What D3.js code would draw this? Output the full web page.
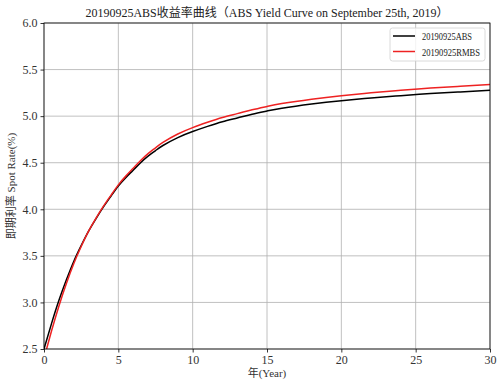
<!DOCTYPE html>
<html>
<head>
<meta charset="utf-8">
<script src="https://cdn.jsdelivr.net/npm/d3@7"></script>
<style>
  body { margin: 0; background: #fff; }
  svg text { font-family: "Liberation Serif", "Noto Sans CJK SC", serif; }
</style>
</head>
<body>
<div id="wrapper"></div>
<script>
// years to maturity
const years = [0, 0.5, 1, 1.5, 2, 2.5, 3, 3.5, 4, 4.5, 5, 5.5, 6, 6.5, 7, 7.5, 8, 9, 10, 11, 12, 13, 14, 15, 16, 18, 20, 22, 24, 26, 28, 30];
// 20190925ABS spot rate (%)
const absRates = [2.50, 2.77, 3.02, 3.24, 3.44, 3.61, 3.765, 3.90, 4.025, 4.14, 4.25, 4.34, 4.42, 4.50, 4.57, 4.63, 4.685, 4.77, 4.835, 4.89, 4.94, 4.98, 5.02, 5.055, 5.085, 5.13, 5.166, 5.195, 5.22, 5.242, 5.26, 5.277];
// 20190925RMBS spot rate (%)
const rmbsRates = [2.40, 2.69, 2.96, 3.20, 3.415, 3.60, 3.765, 3.905, 4.033, 4.15, 4.262, 4.356, 4.44, 4.523, 4.597, 4.66, 4.718, 4.808, 4.877, 4.934, 4.986, 5.027, 5.068, 5.104, 5.135, 5.182, 5.22, 5.251, 5.278, 5.302, 5.321, 5.339];
const xTicks = [0, 5, 10, 15, 20, 25, 30];
const yTicks = [2.5, 3.0, 3.5, 4.0, 4.5, 5.0, 5.5, 6.0];
const seriesNames = ["20190925ABS", "20190925RMBS"];
const seriesColors = ["#000000", "#ee2222"];

const dimension = {
    width: 502,
    height: 387,
    margin: { top: 23, left: 44, bottom: 38, right: 12 }
};
dimension.boundedWidth = dimension.width - dimension.margin.left - dimension.margin.right;
dimension.boundedHeight = dimension.height - dimension.margin.top - dimension.margin.bottom;

const svg = d3.select("#wrapper").append("svg")
    .attr("width", dimension.width)
    .attr("height", dimension.height);

const xScaler = d3.scaleLinear().domain([0, 30]).range([0, dimension.boundedWidth]);
const yScaler = d3.scaleLinear().domain([2.5, 6.0]).range([dimension.boundedHeight, 0]);

svg.append("defs").append("clipPath").attr("id", "clip")
    .append("rect")
    .attr("width", dimension.boundedWidth)
    .attr("height", dimension.boundedHeight);

const bounded = svg.append("g")
    .attr("transform", `translate(${dimension.margin.left},${dimension.margin.top})`);

// grid
bounded.append("g")
    .selectAll("line.gx").data(xTicks).join("line")
    .attr("x1", d => xScaler(d)).attr("x2", d => xScaler(d))
    .attr("y1", 0).attr("y2", dimension.boundedHeight)
    .attr("stroke", "#b0b0b0").attr("stroke-width", 0.8);
bounded.append("g")
    .selectAll("line.gy").data(yTicks).join("line")
    .attr("y1", d => yScaler(d)).attr("y2", d => yScaler(d))
    .attr("x1", 0).attr("x2", dimension.boundedWidth)
    .attr("stroke", "#b0b0b0").attr("stroke-width", 0.8);

// lines
const lineGenerator = d3.line()
    .x((d, i) => xScaler(years[i]))
    .y(d => yScaler(d))
    .curve(d3.curveNatural);

const lines = bounded.append("g").attr("clip-path", "url(#clip)");
[absRates, rmbsRates].forEach((rates, k) => {
    lines.append("path")
        .attr("d", lineGenerator(rates))
        .attr("fill", "none")
        .attr("stroke", seriesColors[k])
        .attr("stroke-width", 1.5);
});

// axes
const x_axis = d3.axisBottom(xScaler).tickValues(xTicks).tickFormat(d3.format("d")).tickSizeOuter(0).tickSize(3.5).tickPadding(3);
const y_axis = d3.axisLeft(yScaler).tickValues(yTicks).tickFormat(d3.format(".1f")).tickSizeOuter(0).tickSize(3.5).tickPadding(3);

const gx = bounded.append("g")
    .attr("transform", `translate(0,${dimension.boundedHeight})`)
    .call(x_axis);
const gy = bounded.append("g").call(y_axis);
[gx, gy].forEach(g => {
    g.select(".domain").remove();
    g.selectAll(".tick line").attr("stroke", "#000").attr("stroke-width", 0.8);
    g.selectAll(".tick text").attr("fill", "#333").style("font-size", "12px")
        .style("font-family", "\"Liberation Serif\", \"Noto Sans CJK SC\", serif");
});

// frame
bounded.append("rect")
    .attr("width", dimension.boundedWidth)
    .attr("height", dimension.boundedHeight)
    .attr("fill", "none")
    .attr("stroke", "#000")
    .attr("stroke-width", 0.8);

// title and labels
svg.append("text")
    .attr("x", dimension.margin.left + dimension.boundedWidth / 2)
    .attr("y", 17)
    .attr("text-anchor", "middle")
    .style("font-size", "12px")
    .attr("fill", "#222")
    .text("20190925ABS收益率曲线（ABS Yield Curve on September 25th, 2019）");

svg.append("text")
    .attr("x", dimension.margin.left + dimension.boundedWidth / 2)
    .attr("y", 377)
    .attr("text-anchor", "middle")
    .style("font-size", "11px")
    .attr("fill", "#333")
    .text("年(Year)");

svg.append("text")
    .attr("transform", "rotate(-90)")
    .attr("x", -(dimension.margin.top + dimension.boundedHeight / 2))
    .attr("y", 15)
    .attr("text-anchor", "middle")
    .style("font-size", "11px")
    .attr("fill", "#333")
    .text("即期利率 Spot Rate(%)");

// legend
const legend = svg.append("g").attr("transform", "translate(390,28)");
legend.append("rect")
    .attr("width", 95).attr("height", 33)
    .attr("rx", 2.5)
    .attr("fill", "#fff").attr("fill-opacity", 0.8)
    .attr("stroke", "#d0d0d0").attr("stroke-width", 0.8);
const legendTextWidths = [50, 58];
seriesNames.forEach((name, k) => {
    const row = legend.append("g").attr("transform", `translate(0,${8 + k * 15.5})`);
    row.append("line")
        .attr("x1", 3).attr("x2", 25)
        .attr("stroke", seriesColors[k]).attr("stroke-width", 1.5);
    row.append("text")
        .attr("x", 32).attr("y", 4)
        .style("font-size", "11px")
        .attr("textLength", legendTextWidths[k])
        .attr("lengthAdjust", "spacingAndGlyphs")
        .attr("fill", "#222")
        .text(name);
});
</script>
</body>
</html>
